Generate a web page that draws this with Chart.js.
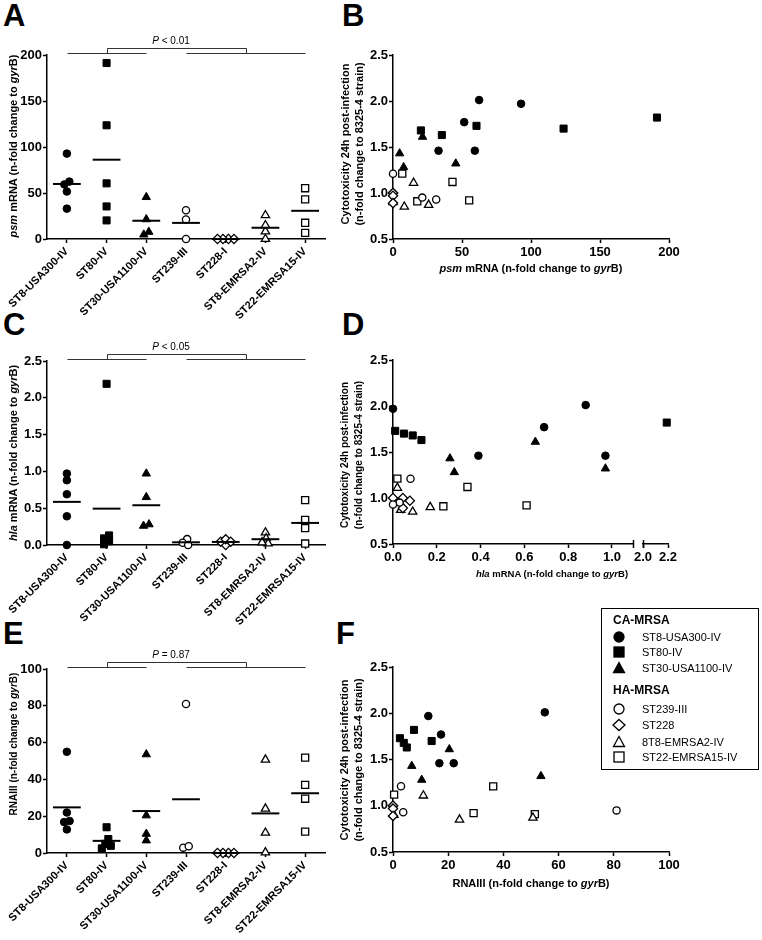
<!DOCTYPE html>
<html>
<head>
<meta charset="utf-8">
<title>psm, hla and RNAIII expression vs cytotoxicity</title>
<script src="https://cdn.jsdelivr.net/npm/chart.js@4.4.1/dist/chart.umd.min.js"></script>
<style>
  body { margin: 0; background: #fff; }
  #fig { position: relative; width: 762px; height: 940px; overflow: hidden; background: #fff;
         font-family: "Liberation Sans", Arial, sans-serif; color: #000; }
  #fig canvas { position: absolute; }
  .letter { position: absolute; font-weight: bold; font-size: 31px; line-height: 31px; }
  .title { position: absolute; white-space: nowrap; font-weight: bold; font-size: 11px; line-height: 14px; text-align: center; }
  .ytitle { transform: translate(-50%, -50%) rotate(-90deg); }
  .xtitle { transform: translate(-50%, -50%); }
  #legend { position: absolute; left: 601px; top: 608px; width: 158px; height: 162px; border: 1.5px solid #000; box-sizing: border-box; }
  #legend div { position: absolute; white-space: nowrap; font-size: 11px; line-height: 14px; transform: translateY(-50%); }
  #legend .head { font-weight: bold; font-size: 12px; }
  #legend svg { position: absolute; transform: translate(-50%, -50%); }
</style>
</head>
<body>
<div id="fig">
  <div class="letter" style="left:3px;top:0px">A</div>
  <div class="letter" style="left:342px;top:0px">B</div>
  <div class="letter" style="left:3px;top:309px">C</div>
  <div class="letter" style="left:342px;top:309px">D</div>
  <div class="letter" style="left:3px;top:618px">E</div>
  <div class="letter" style="left:336px;top:618px">F</div>

  <canvas id="panelA"></canvas>
  <canvas id="panelB"></canvas>
  <canvas id="panelC"></canvas>
  <canvas id="panelD"></canvas>
  <canvas id="panelD2"></canvas>
  <canvas id="panelE"></canvas>
  <canvas id="panelF"></canvas>

  <div class="title ytitle" style="left:13px;top:146px"><i>psm</i> mRNA (n-fold change to <i>gyr</i>B)</div>
  <div class="title ytitle" style="left:13px;top:453px"><i>hla</i> mRNA (n-fold change to <i>gyr</i>B)</div>
  <div class="title ytitle" style="left:14px;top:744px;font-size:10px"><span>RNAIII (n-fold change to <i>gyr</i>B)</span></div>

  <div class="title ytitle" style="left:352px;top:144px">Cytotoxicity 24h post-infection<br>(n-fold change to 8325-4 strain)</div>
  <div class="title ytitle" style="left:352px;top:455px;font-size:10px">Cytotoxicity 24h post-infection<br>(n-fold change to 8325-4 strain)</div>
  <div class="title ytitle" style="left:351px;top:760px">Cytotoxicity 24h post-infection<br>(n-fold change to 8325-4 strain)</div>

  <div class="title xtitle" style="left:531px;top:268px"><i>psm</i> mRNA (n-fold change to <i>gyr</i>B)</div>
  <div class="title xtitle" style="left:552px;top:574px;font-size:9.5px"><i>hla</i> mRNA (n-fold change to <i>gyr</i>B)</div>
  <div class="title xtitle" style="left:531px;top:883px"><span>RNAIII (n-fold change to <i>gyr</i>B)</span></div>

  <div id="legend"></div>
</div>

<script>
// strains, in plot order
const groups = ['ST8-USA300-IV', 'ST80-IV', 'ST30-USA1100-IV', 'ST239-III', 'ST228-I', 'ST8-EMRSA2-IV', 'ST22-EMRSA15-IV'];
const legendNames = ['ST8-USA300-IV', 'ST80-IV', 'ST30-USA1100-IV', 'ST239-III', 'ST228', '8T8-EMRSA2-IV', 'ST22-EMRSA15-IV'];
const legendHeads = ['CA-MRSA', 'HA-MRSA'];

// psm mRNA (n-fold change to gyrB), panels A and B
const psm = [
  [92.8, 62.4, 51.6, 33.0, 59.3],
  [191.3, 60.5, 123.6, 20.2, 35.4],
  [4.8, 7.7, 21.4, 45.5],
  [0, 21.2, 31.3],
  [0, 0, 0, 0],
  [0, 8.2, 14.9, 25.8],
  [6.7, 17.6, 43.1, 55.2]
];

// hla mRNA (n-fold change to gyrB), panels C and D
const hla = [
  [0.0, 0.88, 0.69, 0.39, 0.97],
  [2.19, 0.01, 0.05, 0.09, 0.13],
  [0.26, 0.28, 0.65, 0.97],
  [0.08, 0.03, 0.0],
  [0.0, 0.045, 0.077, 0.045],
  [0.17, 0.09, 0.02, 0.035],
  [0.02, 0.23, 0.34, 0.61]
];

// RNAIII (n-fold change to gyrB), panel E
const rna = [
  [12.8, 55.0, 17.4, 16.8, 22.0],
  [7.6, 2.5, 14.0, 3.9, 5.0],
  [6.8, 10.4, 20.4, 53.6],
  [2.9, 81.0, 3.7],
  [0, 0, 0, 0],
  [0.3, 24.1, 11.0, 50.7],
  [37.0, 51.8, 11.6, 29.5]
];

// RNAIII as plotted against cytotoxicity, panel F
const rnaF = [
  [12.8, 55.0, 17.4, 16.8, 22.0],
  [7.6, 2.5, 14.0, 3.9, 5.0],
  [6.8, 10.4, 20.4, 53.6],
  [2.9, 81.0, 3.7],
  [0, 0, 0, 0],
  [0.3, 24.1, 11.0, 50.7],
  [36.3, 51.4, 0.4, 29.2]
];

// cytotoxicity 24h post-infection (n-fold change to 8325-4), panels B, D, F
const cyt = [
  [1.97, 2.01, 1.77, 1.46, 1.46],
  [1.82, 1.73, 1.70, 1.68, 1.63],
  [1.43, 1.28, 1.61, 1.32],
  [1.21, 0.95, 0.93],
  [1.00, 1.00, 0.97, 0.89],
  [0.90, 0.85, 1.11, 0.87],
  [1.21, 0.91, 1.12, 0.92]
];

const pLabels = [['P', ' < 0.01'], ['P', ' < 0.05'], ['P', ' = 0.87']];

Chart.defaults.font.family = '"Liberation Sans", Arial, sans-serif';
Chart.defaults.color = '#000';

const AXIS_W = 1.5;
const markers = [
  { style: 'circle', r: 3.8, fill: true },
  { style: 'rect', r: 5, fill: true },
  { style: 'triangle', r: 4.8, fill: true },
  { style: 'circle', r: 3.6, fill: false },
  { style: 'rectRot', r: 4.6, fill: false },
  { style: 'triangle', r: 4.8, fill: false },
  { style: 'rect', r: 5, fill: false }
];

function pointSet(data, g) {
  const m = markers[g];
  return {
    data: data,
    showLine: false,
    pointStyle: m.style,
    pointRadius: m.r,
    pointHoverRadius: m.r,
    pointBackgroundColor: m.fill ? '#000' : '#fff',
    pointBorderColor: '#000',
    pointBorderWidth: m.fill ? 1 : 1.3,
    clip: 8
  };
}

// spread overlapping points sideways, like a beeswarm
function swarm(vals, pxPerUnit, catPx) {
  const D = 5.5;
  const y = vals.map(v => v * pxPerUnit);
  const dx = vals.map(() => 0);
  const parent = vals.map((v, i) => i);
  const find = i => parent[i] === i ? i : (parent[i] = find(parent[i]));
  const order = vals.map((v, i) => i).sort((a, b) => vals[b] - vals[a]);
  const placed = [];
  order.forEach(i => {
    const near = placed.filter(j => Math.abs(y[j] - y[i]) < D);
    const free = c => near.every(j => Math.hypot(dx[j] - c, y[j] - y[i]) >= D);
    let s = 0;
    while (!free(-s) && !free(s) && s < 40) s += 0.5;
    dx[i] = free(-s) ? -s : s;
    near.forEach(j => { parent[find(j)] = find(i); });
    placed.push(i);
  });
  const sums = {};
  order.forEach(i => {
    const r = find(i);
    sums[r] = sums[r] || [0, 0];
    sums[r][0] += dx[i];
    sums[r][1]++;
  });
  return dx.map((d, i) => { const r = sums[find(i)]; return (d - r[0] / r[1]) / catPx; });
}

const mean = a => a.reduce((s, v) => s + v, 0) / a.length;

// P-value bracket between CA-MRSA (groups 1-3) and HA-MRSA (groups 4-7)
const bracketPlugin = {
  id: 'bracket',
  afterDraw(chart, args, opts) {
    const { ctx, chartArea, scales } = chart;
    const x = v => Math.round(scales.x.getPixelForValue(v)) + 0.5;
    const y0 = Math.round(chartArea.top - 2) + 0.5;
    const y1 = y0 - 5;
    ctx.save();
    ctx.strokeStyle = '#333';
    ctx.lineWidth = 1;
    ctx.beginPath();
    ctx.moveTo(x(1), y0); ctx.lineTo(x(3), y0);
    ctx.moveTo(x(4), y0); ctx.lineTo(x(7), y0);
    ctx.moveTo(x(2), y0); ctx.lineTo(x(2), y1); ctx.lineTo(x(5.5), y1); ctx.lineTo(x(5.5), y0);
    ctx.stroke();
    const fam = '"Liberation Sans", Arial, sans-serif';
    ctx.font = 'italic 10px ' + fam;
    const w1 = ctx.measureText(opts.label[0]).width;
    ctx.font = '10px ' + fam;
    const w2 = ctx.measureText(opts.label[1]).width;
    let tx = (x(2) + x(5.5)) / 2 - 6 - (w1 + w2) / 2;
    ctx.fillStyle = '#000';
    ctx.textBaseline = 'alphabetic';
    ctx.font = 'italic 10px ' + fam;
    ctx.fillText(opts.label[0], tx, y1 - 5);
    ctx.font = '10px ' + fam;
    ctx.fillText(opts.label[1], tx + w1, y1 - 5);
    ctx.restore();
  }
};

// axis break marks for panel D
const breakPlugin = {
  id: 'axisBreak',
  afterDraw(chart, args, opts) {
    const { ctx, chartArea } = chart;
    const xb = Math.round(opts.side === 'right' ? chartArea.right : chartArea.left) + 0.5;
    ctx.save();
    ctx.strokeStyle = '#000';
    ctx.lineWidth = AXIS_W;
    ctx.beginPath();
    ctx.moveTo(xb, chartArea.bottom - 4);
    ctx.lineTo(xb, chartArea.bottom + 4);
    ctx.stroke();
    ctx.restore();
  }
};

function axis(min, max, step, fmt, fit, fontSize) {
  return {
    type: 'linear', min: min, max: max,
    ticks: {
      stepSize: step, includeBounds: false, autoSkip: false, maxRotation: 0,
      font: { size: fontSize || 13, weight: 'bold' }, color: '#000', padding: 2,
      callback: fmt
    },
    grid: { drawOnChartArea: false, drawTicks: true, tickLength: 4, tickWidth: AXIS_W, tickColor: '#000' },
    border: { color: '#000', width: AXIS_W },
    afterFit: fit
  };
}

function makeChart(id, box, area, datasets, xAxis, yAxis, plugins, pluginOpts, yShown) {
  const cv = document.getElementById(id);
  cv.width = box.w; cv.height = box.h;
  cv.style.left = box.left + 'px'; cv.style.top = box.top + 'px';
  const yWidth = area.l - box.left;
  const xHeight = box.top + box.h - area.b;
  xAxis.afterFit = s => { s.height = xHeight; };
  if (yShown) yAxis.afterFit = s => { s.width = yWidth; };
  else yAxis.display = false;
  return new Chart(cv.getContext('2d'), {
    type: 'scatter',
    data: { datasets: datasets },
    options: {
      responsive: false, animation: false, devicePixelRatio: 1, events: [],
      layout: { padding: { left: yShown ? 0 : yWidth, top: area.t - box.top, right: box.left + box.w - area.r, bottom: 0 } },
      scales: { x: xAxis, y: yAxis },
      plugins: Object.assign({ legend: { display: false }, tooltip: { enabled: false } }, pluginOpts)
    },
    plugins: plugins
  });
}

const one = v => Number(v).toFixed(1);
const whole = v => String(Math.round(v));

function stripPanel(id, box, area, values, yMax, yStep, yFmt, label) {
  const catPx = (area.r - area.l) / groups.length;
  const pxPerUnit = (area.b - area.t) / yMax;
  const sets = [];
  values.forEach((vals, g) => {
    const m = mean(vals);
    sets.push({
      data: [{ x: g + 1 - 0.35, y: m }, { x: g + 1 + 0.35, y: m }],
      showLine: true, borderColor: '#000', borderWidth: 2, pointRadius: 0, clip: 8
    });
  });
  values.forEach((vals, g) => {
    const jit = swarm(vals, pxPerUnit, catPx);
    sets.push(pointSet(vals.map((v, k) => ({ x: g + 1 + jit[k], y: v })), g));
  });
  const xAxis = axis(0.5, groups.length + 0.5, 1, v => groups[Math.round(v) - 1]);
  xAxis.afterBuildTicks = s => { s.ticks = groups.map((name, i) => ({ value: i + 1 })); };
  xAxis.ticks.font = { size: 11, weight: 'bold' };
  xAxis.ticks.minRotation = 45;
  xAxis.ticks.maxRotation = 45;
  const yAxis = axis(0, yMax, yStep, yFmt);
  yAxis.ticks.padding = 1;
  makeChart(id, box, area, sets, xAxis, yAxis, [bracketPlugin], { bracket: { label: label } }, true);
}

function scatterPanel(id, box, area, xs, xMin, xMax, xStep, xFmt, keep, extraPlugins, extraOpts, yShown) {
  const sets = xs.map((vals, g) => pointSet(
    vals.map((v, k) => ({ x: v, y: cyt[g][k] })).filter(p => keep(p.x)), g));
  const xAxis = axis(xMin, xMax, xStep, xFmt);
  const yAxis = axis(0.5, 2.5, 0.5, one);
  yAxis.ticks.padding = 1;
  makeChart(id, box, area, sets, xAxis, yAxis, extraPlugins || [], extraOpts || {}, yShown !== false);
}

const all = () => true;

stripPanel('panelA', { left: 0, top: 0, w: 345, h: 330 }, { l: 47, t: 55, r: 325, b: 239 }, psm, 200, 50, whole, pLabels[0]);
stripPanel('panelC', { left: 0, top: 300, w: 345, h: 335 }, { l: 47, t: 361, r: 325, b: 545 }, hla, 2.5, 0.5, one, pLabels[1]);
stripPanel('panelE', { left: 0, top: 600, w: 345, h: 340 }, { l: 47, t: 669, r: 325, b: 853 }, rna, 100, 20, whole, pLabels[2]);

scatterPanel('panelB', { left: 360, top: 0, w: 330, h: 300 }, { l: 393, t: 55, r: 669, b: 239 }, psm, 0, 200, 50, whole, all);
scatterPanel('panelD', { left: 360, top: 300, w: 290, h: 290 }, { l: 393, t: 360, r: 633, b: 544 }, hla, 0, 1.096, 0.2, one,
  v => v <= 1.1, [breakPlugin], { axisBreak: { side: 'right' } });
scatterPanel('panelD2', { left: 620, top: 300, w: 70, h: 290 }, { l: 643, t: 360, r: 668, b: 544 }, hla, 2.0, 2.2, 0.2, one,
  v => v >= 2.0, [breakPlugin], { axisBreak: { side: 'left' } }, false);
scatterPanel('panelF', { left: 360, top: 600, w: 330, h: 300 }, { l: 393, t: 667, r: 669, b: 852 }, rnaF, 0, 100, 20, whole, all);

// legend
function symbolSvg(g) {
  const m = markers[g];
  const fill = m.fill ? '#000' : '#fff';
  const st = `fill="${fill}" stroke="#000" stroke-width="1.3"`;
  let shape;
  if (m.style === 'circle') shape = `<circle cx="8" cy="8" r="5" ${st}/>`;
  else if (m.style === 'rect') shape = `<rect x="3" y="3" width="10" height="10" ${st}/>`;
  else if (m.style === 'triangle') shape = `<polygon points="8,2.5 13.5,12.5 2.5,12.5" ${st}/>`;
  else shape = `<polygon points="8,2.5 14,8 8,13.5 2,8" ${st}/>`;
  return `<svg width="16" height="16" style="left:17px;top:ROWpx">${shape}</svg>`;
}

const legendRows = [28, 43, 59, 100, 116, 133, 148];
const headRows = [11, 81];
const legend = document.getElementById('legend');
let html = '';
legendHeads.forEach((h, i) => { html += `<div class="head" style="left:11px;top:${headRows[i]}px">${h}</div>`; });
legendNames.forEach((name, g) => {
  html += symbolSvg(g).replace('ROW', legendRows[g]);
  html += `<div style="left:40px;top:${legendRows[g]}px">${name}</div>`;
});
legend.innerHTML = html;
</script>
</body>
</html>
